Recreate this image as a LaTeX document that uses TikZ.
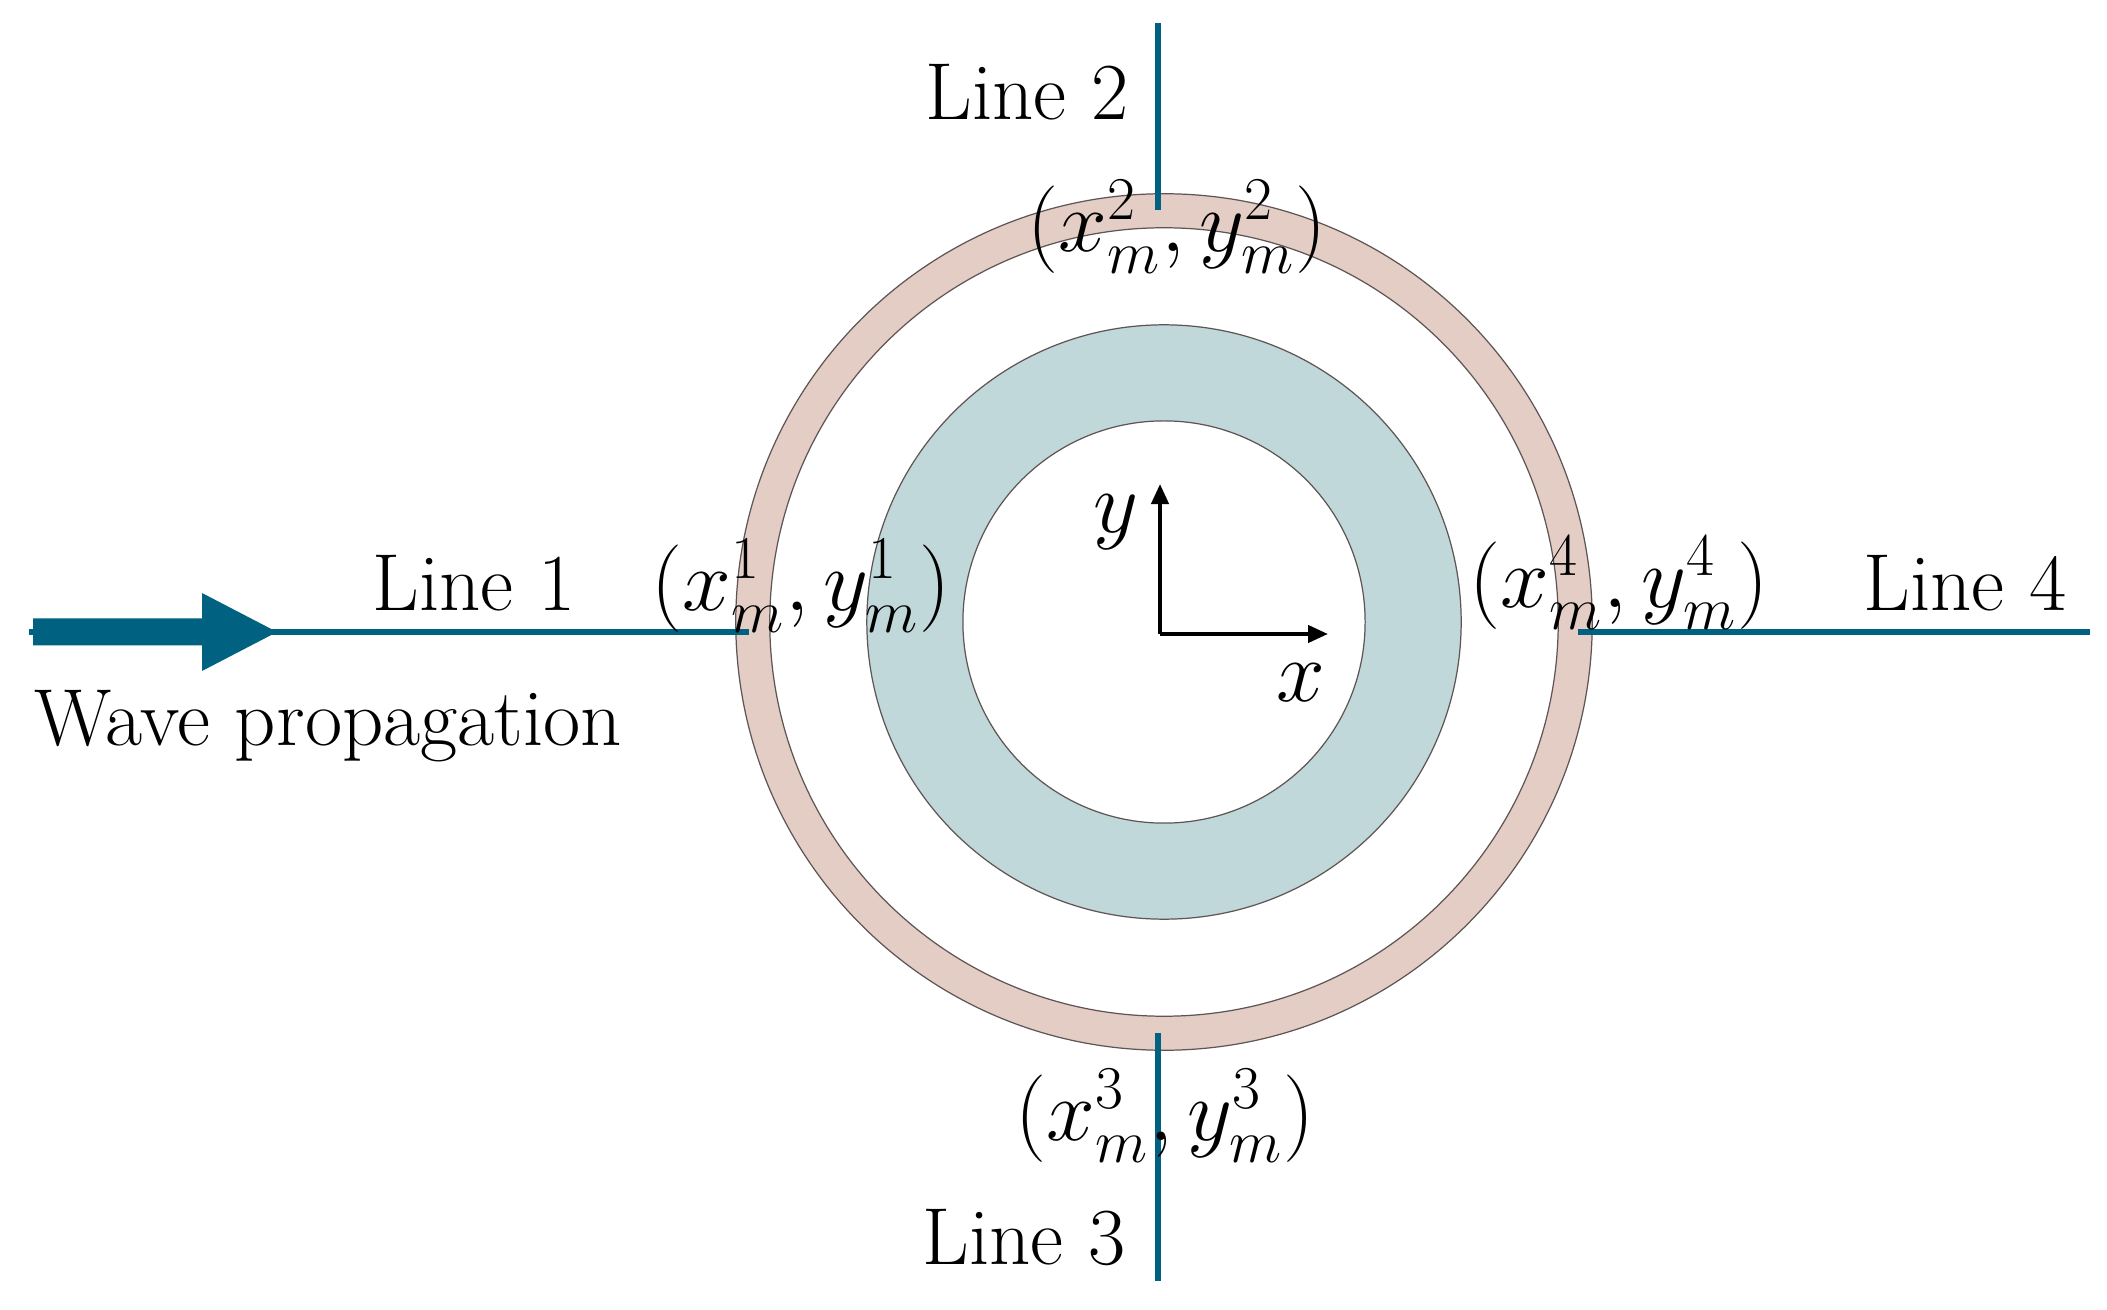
\documentclass[tikz,border=0pt]{standalone}
\usetikzlibrary{arrows.meta}
\definecolor{linec}{RGB}{0,97,128}
\definecolor{pinkc}{RGB}{227,205,197}
\definecolor{tealc}{RGB}{192,216,217}
\definecolor{edgec}{RGB}{95,85,85}
\begin{document}
\begin{tikzpicture}[x=0.01cm,y=-0.01cm,
  lbl/.style={inner sep=0pt,font=\fontsize{23}{27}\selectfont},
  probe/.style={draw=linec,line width=1.5pt},
  ringedge/.style={draw=edgec,line width=0.35pt},
  axis/.style={draw=black,line width=1.2pt,-{Triangle[length=0.2cm,width=0.17cm]}}]
\useasboundingbox (0,0) rectangle (2107,1310);
% rings
\coordinate (c) at (1164,622);
\fill[pinkc,even odd rule] (c) circle[radius=4.28cm] (c) circle[radius=3.94cm];
\draw[ringedge] (c) circle[radius=4.28cm];
\draw[ringedge] (c) circle[radius=3.94cm];
\fill[tealc,even odd rule] (c) circle[radius=2.97cm] (c) circle[radius=2.01cm];
\draw[ringedge] (c) circle[radius=2.97cm];
\draw[ringedge] (c) circle[radius=2.01cm];
% probe lines
\coordinate (l1a) at (29,632);  \coordinate (l1b) at (749,632);
\coordinate (l2a) at (1158,23); \coordinate (l2b) at (1158,210);
\coordinate (l3a) at (1158,1033); \coordinate (l3b) at (1158,1281);
\coordinate (l4a) at (1578,632); \coordinate (l4b) at (2090,632);
\draw[probe] (l1a) -- (l1b);
\draw[probe] (l2a) -- (l2b);
\draw[probe] (l3a) -- (l3b);
\draw[probe] (l4a) -- (l4b);
% wave arrow
\fill[linec] (33,618.5) -- (202,618.5) -- (202,593) -- (277,632) -- (202,671) -- (202,645.5) -- (33,645.5) -- cycle;
% axes
\coordinate (o) at (1160,634);
\coordinate (xt) at (1328,634);
\coordinate (yt) at (1160,484);
\draw[axis] (o) -- (xt);
\draw[axis] (o) -- (yt);
% labels
\node[lbl] (ylab) at (1116,522) {$y$};
\node[lbl] (xlab) at (1301,683) {$x$};
\node[lbl] (t1) at (474,583) {Line 1};
\node[lbl] (t2) at (1027,92) {Line 2};
\node[lbl] (t3) at (1024,1238) {Line 3};
\node[lbl] (t4) at (1965,583) {Line 4};
\node[lbl,anchor=west] (wave) at (34,726) {Wave propagation};
\node[lbl] (p1) at (801,586) {$(x_m^1,y_m^1)$};
\node[lbl] (p2) at (1177,227) {$(x_m^2,y_m^2)$};
\node[lbl] (p3) at (1165,1116) {$(x_m^3,y_m^3)$};
\node[lbl] (p4) at (1619,583) {$(x_m^4,y_m^4)$};
\end{tikzpicture}
\end{document}
